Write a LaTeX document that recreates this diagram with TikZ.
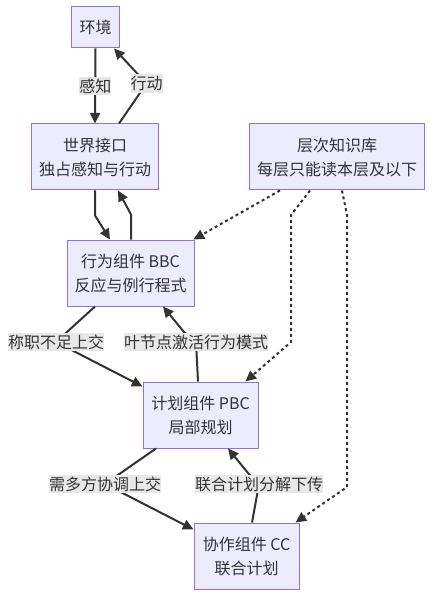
\documentclass[tikz,border=0pt]{standalone}
\usepackage{fontspec}
\setmainfont{Noto Sans CJK SC}
\usepackage{xcolor}
\usepackage{tikz}
\usetikzlibrary{arrows.meta,calc}
\definecolor{boxfill}{HTML}{ECECFF}
\definecolor{boxline}{HTML}{9370DB}
\definecolor{ink}{HTML}{333333}
\definecolor{lblbg}{HTML}{E8E8E8}

\begin{document}
\begin{tikzpicture}[x=0.75pt,y=-0.75pt,
    font=\fontsize{12}{18}\selectfont,
    box/.style={draw=boxline,fill=boxfill,text=ink,align=center,inner sep=0pt,line width=0.75pt,minimum height=49.5pt},
    lbl/.style={fill=lblbg,text=ink,inner xsep=0pt,inner ysep=1.5pt},
    flow/.style={draw=ink,line width=1.5pt,line join=round,-{Triangle[length=8pt,width=7.5pt]}},
    kb/.style={flow,dash pattern=on 2.25pt off 2.25pt}]
    \useasboundingbox (0,0) rectangle (433,598);

    % Components
    \node [box,minimum width=36pt,minimum height=30.75pt] (env) at (95.5,27.5) {环境};
    \node [box,minimum width=95.25pt] (world) at (95,157) {世界接口\\独占感知与行动};
    \node [box,minimum width=131.25pt] (know) at (337,157) {层次知识库\\每层只能读本层及以下};
    \node [box,minimum width=95.25pt] (bbc) at (130.5,273) {行为组件 BBC\\反应与例行程式};
    \node [box,minimum width=86.25pt] (pbc) at (200.5,415) {计划组件 PBC\\局部规划};
    \node [box,minimum width=78.75pt] (cc) at (246.5,556) {协作组件 CC\\联合计划};

    % Environment loop
    \draw [flow] (env.south) -- node[lbl] {感知} (world.north);
    \draw [flow] ([shift={(24,0)}]world.north) -- (146.5,83.5) node[lbl] {行动} -- ([shift={(-6,0)}]env.south east);
    \draw [flow] (world.south) -- ++(0,25) -- ([shift={(-20.5,0)}]bbc.north);
    \draw [flow] ([shift={(0.5,0)}]bbc.north) -- ++(0,-25) -- ([shift={(23,0)}]world.south);

    % Knowledge base reads
    \draw [kb] ([shift={(-57,0)}]know.south) -- ([shift={(-1,0)}]bbc.north east);
    \draw [kb] ([shift={(-27,0)}]know.south) -- (291,215) -- (291,342) -- ([shift={(-13,0)}]pbc.north east);
    \draw [kb] ([shift={(5,0)}]know.south) -- (347,215) -- (347,487) -- ([shift={(-4,0)}]cc.north east);

    % Up and down the hierarchy
    \draw [flow] ([shift={(-35.5,0)}]bbc.south) -- (56,342) node[lbl] {称职不足上交} -- ([shift={(0,5)}]pbc.north west);
    \draw [flow] ([shift={(-2.5,0)}]pbc.north) -- (196,342) node[lbl] {叶节点激活行为模式} -- (184,332) -- ([shift={(32.5,0)}]bbc.south);
    \draw [flow] ([shift={(-44.5,0)}]pbc.south) -- (105,484) node[lbl] {需多方协调上交} -- ([shift={(0,7)}]cc.north west);
    \draw [flow] ([shift={(5.5,0)}]cc.north) -- (259,484) node[lbl] {联合计划分解下传} -- (248,473) -- ([shift={(27.5,0)}]pbc.south);
\end{tikzpicture}
\end{document}
